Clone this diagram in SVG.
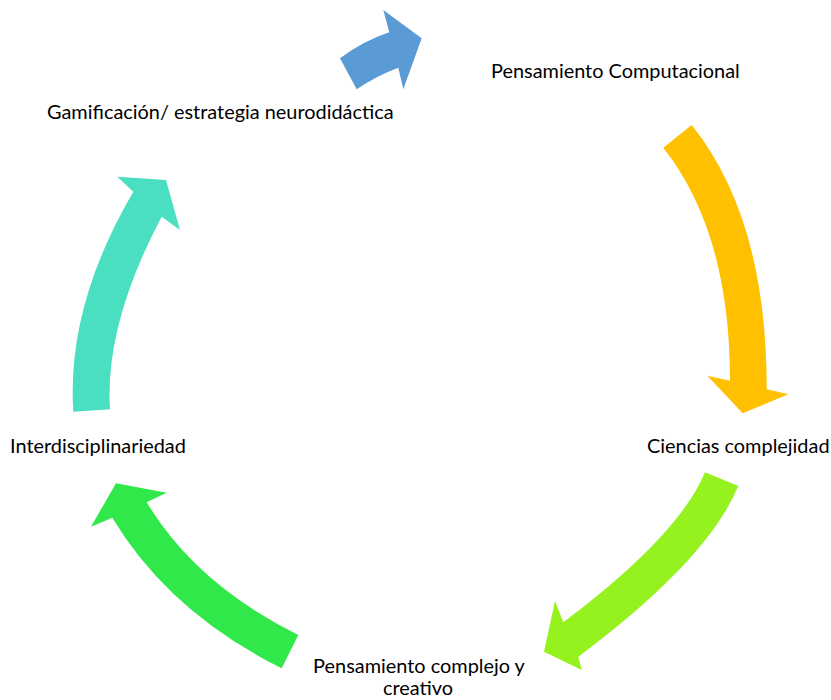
<svg xmlns="http://www.w3.org/2000/svg" width="831" height="700" viewBox="0 0 831 700">
<style>
.t{font-family:Lato,"Liberation Sans",sans-serif;font-size:19.9px;fill:#000}
</style>
<rect width="831" height="700" fill="#fff"/>
<g id="connectors">
<path id="arrow-blue" fill="#5B9BD5" d="M340,58.3 L356.7,89.3 Q376,76 398.3,67.7 L403.3,89.3 L421.7,38.3 L383.3,10 L389.3,32.3 Q363,41 340,58.3 Z"/>
<path id="arrow-yellow" fill="#FFC000" d="M691.7,125 L663.3,147.7 Q730,232 730,380.7 L707.3,375.7 L742.7,413.3 L788.3,394.3 L766.7,389.3 Q767,219 691.7,125 Z"/>
<path id="arrow-lime" fill="#96F21E" d="M738.3,486 L705,472.3 Q678.8,535.6 563.3,622.3 L555,601 L544,651.7 L581.7,670 L578.3,656.7 Q707.4,560.3 738.3,486 Z"/>
<path id="arrow-green" fill="#31E84A" d="M298.3,635 L281.7,668.3 Q168.8,611.9 112.3,517.7 L91,526.7 L116,483.3 L166.7,492.7 L146.7,502.3 Q195.8,584 298.3,635 Z"/>
<path id="arrow-teal" fill="#4ADFC0" d="M110,409.3 L73.3,411.7 Q66.4,306 133.3,191.7 L117.3,176.7 L166,180 L180,230 L161.7,216.7 Q104.5,324.6 110,409.3 Z"/>
</g>
<g id="node-pc"><text class="t" x="491" y="78">Pensamiento Computacional</text></g>
<g id="node-cc"><text class="t" x="647" y="453">Ciencias complejidad</text></g>
<g id="node-pcc"><text class="t" x="419" y="673" text-anchor="middle">Pensamiento complejo y</text><text class="t" x="418" y="695" text-anchor="middle">creativo</text></g>
<g id="node-int"><text class="t" x="10" y="453">Interdisciplinariedad</text></g>
<g id="node-gam"><text class="t" x="47" y="119">Gamificación/ estrategia neurodidáctica</text></g>
</svg>
